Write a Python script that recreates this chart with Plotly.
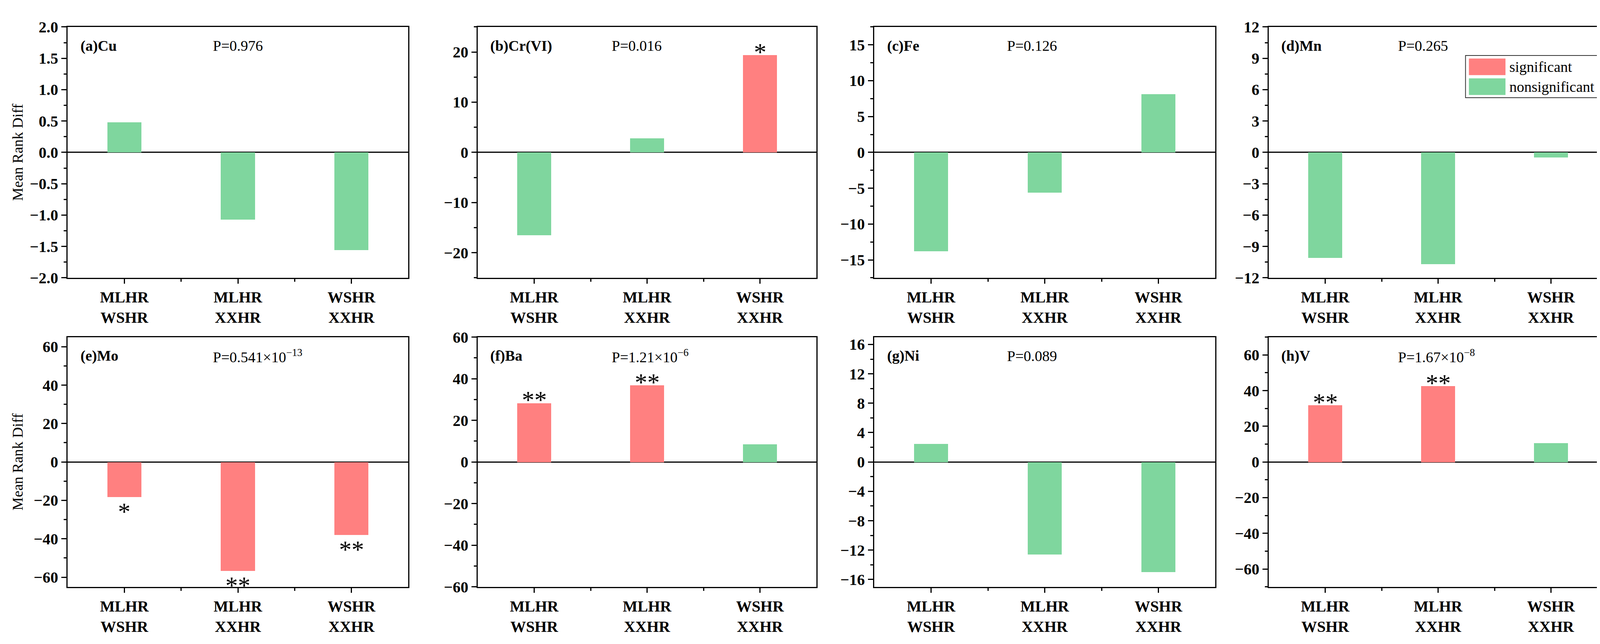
import plotly.graph_objects as go
from plotly.subplots import make_subplots

# comparison pairs on the x axis
pairs = ['MLHR<br>WSHR', 'MLHR<br>XXHR', 'WSHR<br>XXHR']
pair_pos = [1, 2, 3]

tags = ['(a)Cu', '(b)Cr(VI)', '(c)Fe', '(d)Mn', '(e)Mo', '(f)Ba', '(g)Ni', '(h)V']
p_text = ['P=0.976', 'P=0.016', 'P=0.126', 'P=0.265',
          'P=0.541×10<sup>−13</sup>', 'P=1.21×10<sup>−6</sup>',
          'P=0.089', 'P=1.67×10<sup>−8</sup>']

# mean rank difference per pair
cu = [0.48, -1.07, -1.56]
cr6 = [-16.5, 2.8, 19.4]
fe = [-13.8, -5.6, 8.1]
mn = [-10.1, -10.7, -0.5]
mo = [-18.3, -56.7, -38.0]
ba = [28.3, 36.9, 8.6]
ni = [2.5, -12.6, -15.0]
v = [31.9, 42.6, 10.7]

# significance marks
cu_sig = ['', '', '']
cr6_sig = ['', '', '*']
fe_sig = ['', '', '']
mn_sig = ['', '', '']
mo_sig = ['*', '**', '**']
ba_sig = ['**', '**', '']
ni_sig = ['', '', '']
v_sig = ['**', '**', '']

values = [cu, cr6, fe, mn, mo, ba, ni, v]
marks = [cu_sig, cr6_sig, fe_sig, mn_sig, mo_sig, ba_sig, ni_sig, v_sig]

y_ranges = [[-2, 2], [-25, 25], [-17.5, 17.5], [-12, 12],
            [-65, 65], [-60, 60], [-17, 17], [-70, 70]]
y_dticks = [0.5, 10, 5, 3, 20, 20, 4, 20]

RED = '#FF8080'
GREEN = '#7FD69E'
FONT = 'Liberation Serif'
W, H = 4139, 1648
TICK_SIZE = 40
TEXT_SIZE = 38

# panel frames in pixels
col_px = [(165, 1037), (1215, 2082), (2230, 3103), (3240, 4107)]
row_px = [(40, 700), (856, 1513)]
p_x = [0.424, 0.393, 0.387, 0.38]


def bold_ticks(lo, hi, step, decimals):
    vals, texts = [], []
    k = int(round(-(-lo // step)))
    while k * step <= hi + 1e-9:
        val = round(k * step, 6)
        s = f'{abs(val):.{decimals}f}'
        if val < 0:
            s = '−' + s
        vals.append(val)
        texts.append('<b>' + s + '</b>')
        k += 1
    return vals, texts


fig = make_subplots(rows=2, cols=4)

annotations = []
for i in range(8):
    r, c = divmod(i, 4)
    n = i + 1
    ax = '' if n == 1 else str(n)
    colors = [RED if m else GREEN for m in marks[i]]
    fig.add_trace(go.Bar(x=pair_pos, y=values[i], width=0.3,
                         marker=dict(color=colors, line=dict(width=0)),
                         showlegend=False), row=r + 1, col=c + 1)

    x0, x1 = col_px[c]
    y0, y1 = row_px[r]
    fig.layout['xaxis' + ax].update(
        domain=[x0 / W, x1 / W], range=[0.5, 3.5],
        tickvals=pair_pos, ticktext=['<b>' + p + '</b>' for p in pairs],
        ticks='outside', ticklen=12, tickwidth=3, tickcolor='black',
        minor=dict(tickvals=[1.5, 2.5], ticks='outside', ticklen=7,
                   tickwidth=3, tickcolor='black'),
        showline=True, mirror=True, linecolor='black', linewidth=3,
        showgrid=False, zeroline=False,
        tickfont=dict(family=FONT, size=TICK_SIZE, color='black'))
    lo, hi = y_ranges[i]
    tv, tt = bold_ticks(lo, hi, y_dticks[i], 1 if i == 0 else 0)
    fig.layout['yaxis' + ax].update(
        domain=[1 - y1 / H, 1 - y0 / H], range=y_ranges[i],
        tickvals=tv, ticktext=tt, ticks='outside', ticklen=13,
        tickwidth=3, tickcolor='black',
        minor=dict(dtick=y_dticks[i] / 2, tick0=0, ticks='outside',
                   ticklen=7, tickwidth=3, tickcolor='black'),
        showline=True, mirror=True, linecolor='black', linewidth=3,
        showgrid=False, zeroline=True, zerolinecolor='black',
        zerolinewidth=3,
        tickfont=dict(family=FONT, size=TICK_SIZE, color='black'))

    xd = 'x' + ax + ' domain'
    yd = 'y' + ax + ' domain'
    annotations.append(dict(xref=xd, yref=yd, x=0.035, y=0.925,
                            xanchor='left', yanchor='middle', showarrow=False,
                            text='<b>' + tags[i] + '</b>',
                            font=dict(family=FONT, size=TEXT_SIZE, color='black')))
    annotations.append(dict(xref=xd, yref=yd, x=p_x[c], y=0.925,
                            xanchor='left', yanchor='middle', showarrow=False,
                            text=p_text[i],
                            font=dict(family=FONT, size=TEXT_SIZE, color='black')))
    for xp, val, m in zip(pair_pos, values[i], marks[i]):
        if not m:
            continue
        annotations.append(dict(xref='x' + ax, yref='y' + ax, x=xp, y=val,
                                text=m, showarrow=False,
                                yanchor='bottom' if val > 0 else 'top',
                                yshift=-30 if val > 0 else 0,
                                font=dict(family=FONT, size=64, color='black')))

# y axis titles
for r in range(2):
    y0, y1 = row_px[r]
    annotations.append(dict(xref='paper', yref='paper', x=37 / W,
                            y=1 - (y0 + y1) / 2 / H, textangle=-90,
                            xanchor='center', yanchor='middle',
                            showarrow=False, text='Mean Rank Diff',
                            font=dict(family=FONT, size=TEXT_SIZE, color='black')))

# legend box drawn inside panel (d)
shapes = [
    dict(type='rect', xref='x4 domain', yref='y4 domain',
         x0=0.581, x1=0.991, y0=0.718, y1=0.886,
         line=dict(color='#333333', width=2), fillcolor='white'),
    dict(type='rect', xref='x4 domain', yref='y4 domain',
         x0=0.591, x1=0.699, y0=0.808, y1=0.874,
         line=dict(width=0), fillcolor=RED),
    dict(type='rect', xref='x4 domain', yref='y4 domain',
         x0=0.591, x1=0.699, y0=0.729, y1=0.795,
         line=dict(width=0), fillcolor=GREEN),
]
for label, yy in [('significant', 0.841), ('nonsignificant', 0.762)]:
    annotations.append(dict(xref='x4 domain', yref='y4 domain', x=0.708, y=yy,
                            xanchor='left', yanchor='middle', showarrow=False,
                            text=label,
                            font=dict(family=FONT, size=TEXT_SIZE, color='black')))

fig.update_layout(width=W, height=H, margin=dict(l=0, r=0, t=0, b=0),
                  plot_bgcolor='white', paper_bgcolor='white',
                  annotations=annotations, shapes=shapes, bargap=0)

fig.write_html('out.html')
